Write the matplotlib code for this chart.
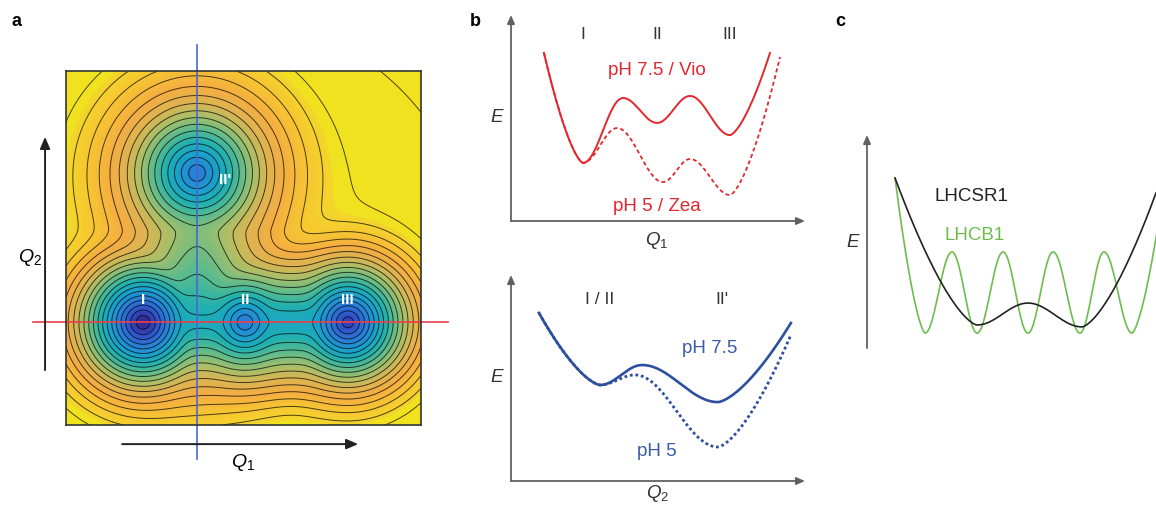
import numpy as np
import matplotlib
matplotlib.use("Agg")
import matplotlib.pyplot as plt
from matplotlib.colors import LinearSegmentedColormap

plt.rcParams["font.family"] = ["Liberation Sans", "DejaVu Sans"]
plt.rcParams["mathtext.fontset"] = "custom"
plt.rcParams["mathtext.it"] = "Liberation Sans:italic"
plt.rcParams["mathtext.rm"] = "Liberation Sans"

W, H = 1156, 505

# ---------------------------------------------------------------- panel a
# basins on the (Q1, Q2) plane: I, II, III, II'
# centre (u, v), floor energy and slope (energy levels per unit of Q)
well_u = [0.217, 0.504, 0.794, 0.369]
well_v = [0.290, 0.290, 0.290, 0.712]
well_e0 = [0.0, 4.0, 1.2, 4.0]
well_k = [80., 72., 78., 56.]
well_knee = 0.20          # slope halves beyond this radius
# ridges joining the basins: segment ends, floor energy at each end,
# slope and rounding of the ridge bottom
sad_u0 = [0.217, 0.504, 0.369]
sad_v0 = [0.290, 0.290, 0.360]
sad_u1 = [0.504, 0.794, 0.369]
sad_v1 = [0.290, 0.290, 0.550]
sad_e0 = [7.5, 7.0, 8.8]
sad_e1 = [7.5, 7.0, 11.2]
sad_k = [55., 55., 34.]
sad_round = [0.04, 0.04, 0.07]
e_plateau = 18.5
e_plateau_rise = 3.0
level_step = 1.0

well_names = ["I", "II", "III", "II'"]
well_lab_u = [0.217, 0.504, 0.794, 0.448]
well_lab_v = [0.353, 0.353, 0.353, 0.692]

# ---------------------------------------------------------------- panel b
# extrema of the 1-D cuts (axes fraction units)
q1_x_vio = [0.112, 0.245, 0.381, 0.497, 0.609, 0.745, 0.881]
q1_e_vio = [0.816, 0.282, 0.597, 0.476, 0.607, 0.417, 0.816]
q1_x_zea = [0.112, 0.245, 0.361, 0.517, 0.609, 0.745, 0.915]
q1_e_zea = [0.816, 0.282, 0.451, 0.189, 0.301, 0.126, 0.796]
q1_states = ["I", "II", "III"]
q1_state_x = [0.245, 0.497, 0.745]

q2_x_75 = [0.095, 0.303, 0.446, 0.704, 0.952]
q2_e_75 = [0.816, 0.466, 0.563, 0.383, 0.767]
q2_x_5 = [0.095, 0.303, 0.422, 0.704, 0.952]
q2_e_5 = [0.816, 0.466, 0.515, 0.165, 0.709]
q2_states = ["I / II", "II'"]
q2_state_x = [0.303, 0.718]

# ---------------------------------------------------------------- panel c
lhcsr_x = [0.097, 0.381, 0.557, 0.744, 1.0]
lhcsr_e = [0.798, 0.108, 0.211, 0.099, 0.728]
lhcb_x = [0.097, 0.201, 0.294, 0.381, 0.471, 0.557, 0.644, 0.737, 0.820,
          0.917, 1.031]
lhcb_e = [0.798, 0.070, 0.451, 0.070, 0.451, 0.070, 0.451, 0.070, 0.451,
          0.070, 0.790]

RED = "#e4262e"
BLUE = "#2d4f9e"
BLUE_TXT = "#3a5aaa"
GREEN = "#6dbd4c"
GREY = "#606060"
INK = "#333333"


def smooth(xk, yk, pw=1.5, n=60):
    """join extrema with eased segments (flat at each extremum)"""
    xs, ys = [], []
    last = len(xk) - 2
    for i in range(len(xk) - 1):
        t = np.linspace(0, 1, n)
        if i == 0:
            y = yk[1] + (yk[0] - yk[1]) * (1 - t) ** pw
        elif i == last:
            y = yk[i] + (yk[i + 1] - yk[i]) * t ** pw
        else:
            y = yk[i] + (yk[i + 1] - yk[i]) * (1 - np.cos(np.pi * t)) / 2
        xs.append(xk[i] + (xk[i + 1] - xk[i]) * t)
        ys.append(y)
    return np.concatenate(xs), np.concatenate(ys)


def seg_dist(uu, vv, u0, v0, u1, v1):
    du, dv = u1 - u0, v1 - v0
    t = ((uu - u0) * du + (vv - v0) * dv) / (du * du + dv * dv)
    t = np.clip(t, 0, 1)
    return np.hypot(uu - u0 - t * du, vv - v0 - t * dv), t


def px_axes(fig, x0, y0, x1, y1):
    return fig.add_axes([x0 / W, 1 - y1 / H, (x1 - x0) / W, (y1 - y0) / H])


def arrow_axes(ax, xaxis=True):
    kw = dict(arrowstyle="-|>,head_length=0.5,head_width=0.22",
              color=GREY, lw=1.3, shrinkA=0, shrinkB=0)
    ax.annotate("", xy=(0, 1.0), xytext=(0, 0), xycoords="axes fraction",
                arrowprops=kw, annotation_clip=False)
    if xaxis:
        ax.annotate("", xy=(1.0, 0), xytext=(0, 0), xycoords="axes fraction",
                    arrowprops=kw, annotation_clip=False)
    ax.set_xlim(0, 1)
    ax.set_ylim(0, 1)
    ax.axis("off")


parula = LinearSegmentedColormap.from_list("parula_like", [
    (0.00, "#35278f"), (0.10, "#3050c8"), (0.20, "#2a7ad8"),
    (0.32, "#1aa0cc"), (0.42, "#20b0b0"), (0.52, "#5cbb8c"),
    (0.62, "#a5bf6a"), (0.72, "#dcb452"), (0.82, "#f4ad42"),
    (0.92, "#f6c432"), (1.00, "#f3d62a")])
parula.set_over("#f1e21f")

fig = plt.figure(figsize=(W / 100, H / 100), dpi=100)

# ---------------------------------------------------------------- a
axa = px_axes(fig, 66, 71, 421, 425)
g = np.linspace(0, 1, 500)
uu, vv = np.meshgrid(g, g)
T = 0.9
acc = np.exp(-(e_plateau + e_plateau_rise
               * np.hypot(uu - 0.45, vv - 0.45)) / T)
for cu, cv, e0, k in zip(well_u, well_v, well_e0, well_k):
    r = np.sqrt((uu - cu) ** 2 + (vv - cv) ** 2 + 0.02 ** 2) - 0.02
    r = r - 0.5 * 0.03 * np.log1p(np.exp((r - well_knee) / 0.03))
    acc += np.exp(-(e0 + k * r) / T)
for a0, b0, a1, b1, e0, e1, k, c in zip(sad_u0, sad_v0, sad_u1, sad_v1,
                                        sad_e0, sad_e1, sad_k, sad_round):
    d, t = seg_dist(uu, vv, a0, b0, a1, b1)
    d = np.sqrt(d ** 2 + c ** 2) - c
    acc += np.exp(-(e0 + (e1 - e0) * t + k * d) / T)
energy = -T * np.log(acc)
top = e_plateau + 0.6
axa.contourf(uu, vv, energy, levels=np.linspace(energy.min(), top, 160),
             cmap=parula, extend="max")
axa.contour(uu, vv, energy, levels=np.arange(0.6, energy.max(), level_step),
            colors="k", linewidths=0.7, alpha=0.7)
axa.set_xlim(0, 1)
axa.set_ylim(0, 1)
axa.set_xticks([])
axa.set_yticks([])
for s in axa.spines.values():
    s.set_linewidth(1.2)
    s.set_color(INK)

axa.plot([well_u[3], well_u[3]], [-0.096, 1.073], color="#4a66d6", lw=1.2,
         clip_on=False)
axa.plot([-0.093, 1.076], [well_v[0], well_v[0]], color="#e8404c", lw=1.2,
         clip_on=False)
for name, lu, lv in zip(well_names, well_lab_u, well_lab_v):
    axa.text(lu, lv, name, color="white", fontsize=11, fontweight="bold",
             ha="center", va="center")

akw = dict(arrowstyle="-|>,head_length=0.7,head_width=0.3", color="#222222",
           lw=1.4, shrinkA=0, shrinkB=0)
axa.annotate("", xy=(-0.059, 0.814), xytext=(-0.059, 0.155),
             xycoords="axes fraction", arrowprops=akw, annotation_clip=False)
axa.annotate("", xy=(0.823, -0.054), xytext=(0.158, -0.054),
             xycoords="axes fraction", arrowprops=akw, annotation_clip=False)
axa.text(0.499, -0.105, "$Q_\\mathrm{1}$", fontsize=14, ha="center",
         va="center", transform=axa.transAxes)
axa.text(-0.101, 0.472, "$Q_\\mathrm{2}$", fontsize=14, ha="center",
         va="center", transform=axa.transAxes)

# ---------------------------------------------------------------- b (Q1)
axb = px_axes(fig, 511, 15, 805, 221)
arrow_axes(axb)
x, y = smooth(q1_x_zea, q1_e_zea)
axb.plot(x, y, color=RED, lw=1.3, ls=(0, (2.2, 1.6)))
x, y = smooth(q1_x_vio, q1_e_vio)
axb.plot(x, y, color=RED, lw=1.4)
for s, sx in zip(q1_states, q1_state_x):
    axb.text(sx, 0.903, s, fontsize=12.5, ha="center", va="center",
             color=INK)
axb.text(0.497, 0.733, "pH 7.5 / Vio", color=RED, fontsize=13.5,
         ha="center", va="center")
axb.text(0.497, 0.068, "pH 5 / Zea", color=RED, fontsize=13.5, ha="center",
         va="center")
axb.text(-0.048, 0.5, "$E$", fontsize=13.5, ha="center", va="center",
         color=INK)
axb.text(0.497, -0.095, "$Q_\\mathrm{1}$", fontsize=13.5, ha="center",
         va="center", color=INK)

# ---------------------------------------------------------------- b (Q2)
axb2 = px_axes(fig, 511, 275, 805, 481)
arrow_axes(axb2)
x, y = smooth(q2_x_5, q2_e_5)
axb2.plot(x, y, color=BLUE, lw=2.0, ls=(0, (1.0, 1.0)))
x, y = smooth(q2_x_75, q2_e_75)
axb2.plot(x, y, color=BLUE, lw=1.9)
for s, sx in zip(q2_states, q2_state_x):
    axb2.text(sx, 0.883, s, fontsize=12.5, ha="center", va="center",
              color=INK)
axb2.text(0.677, 0.641, "pH 7.5", color=BLUE_TXT, fontsize=13.5,
          ha="center", va="center")
axb2.text(0.497, 0.141, "pH 5", color=BLUE_TXT, fontsize=13.5, ha="center",
          va="center")
axb2.text(-0.048, 0.5, "$E$", fontsize=13.5, ha="center", va="center",
          color=INK)
axb2.text(0.497, -0.062, "$Q_\\mathrm{2}$", fontsize=13.5, ha="center",
          va="center", color=INK)

# ---------------------------------------------------------------- c
axc = px_axes(fig, 867, 135, 1156, 348)
arrow_axes(axc, xaxis=False)
x, y = smooth(lhcb_x, lhcb_e)
axc.plot(x, y, color=GREEN, lw=1.2)
x, y = smooth(lhcsr_x, lhcsr_e)
axc.plot(x, y, color="#222222", lw=1.2)
axc.text(-0.048, 0.493, "$E$", fontsize=13.5, ha="center", va="center",
         color=INK)
axc.text(0.363, 0.709, "LHCSR1", fontsize=13.5, ha="center", va="center",
         color="#222222")
axc.text(0.374, 0.526, "LHCB1", fontsize=13.5, ha="center", va="center",
         color=GREEN)

for lab, lx in zip(["a", "b", "c"], [12, 470, 835]):
    fig.text(lx / W, 1 - 22 / H, lab, fontsize=13, fontweight="bold",
             ha="left", va="center")

fig.savefig("out.png", dpi=100)
